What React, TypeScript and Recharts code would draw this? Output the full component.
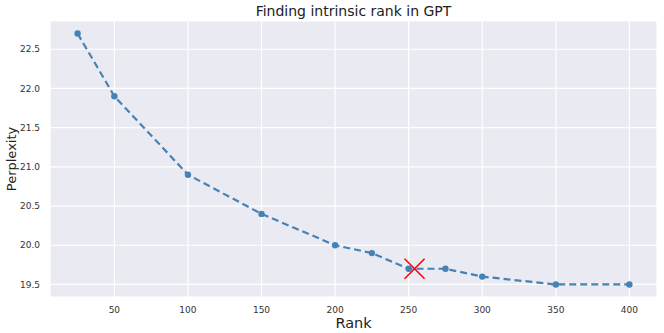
import React from "react";
import {
  ComposedChart, Line, Scatter, XAxis, YAxis, CartesianGrid, Label,
} from "recharts";

const ranks = [25, 50, 100, 150, 200, 225, 250, 275, 300, 350, 400];
const perplexity = [22.7, 21.9, 20.9, 20.4, 20.0, 19.9, 19.7, 19.7, 19.6, 19.5, 19.5];
const chosen = [{ rank: 254, ppl: 19.7 }];
const xTicks = [50, 100, 150, 200, 250, 300, 350, 400];
const yTicks = [19.5, 20.0, 20.5, 21.0, 21.5, 22.0, 22.5];

const font = "'DejaVu Sans', sans-serif";

const CrossMark = (props: any) => {
  const { cx, cy } = props;
  const s = 10;
  return (
    <g>
      <line x1={cx - s} y1={cy - s} x2={cx + s} y2={cy + s} stroke="#ff0000" strokeWidth={1.6} />
      <line x1={cx - s} y1={cy + s} x2={cx + s} y2={cy - s} stroke="#ff0000" strokeWidth={1.6} />
    </g>
  );
};

export default function App() {
  const data = ranks.map((r, i) => ({ rank: r, ppl: perplexity[i] }));

  return (
    <div style={{ position: "absolute", left: 0, top: 0, width: 664, height: 333, background: "#fff", fontFamily: font }}>
      <div
        style={{
          position: "absolute", left: 50, width: 607, top: 3, textAlign: "center",
          fontSize: 14, color: "#222",
        }}
      >
        Finding intrinsic rank in GPT
      </div>
      <ComposedChart width={664} height={333} data={data} margin={{ top: 21, right: 7, left: 0, bottom: 0 }}>
        <CartesianGrid fill="#EAEAF2" stroke="#ffffff" strokeWidth={1.2} />
        <XAxis
          dataKey="rank"
          type="number"
          domain={[6.25, 418.75]}
          ticks={xTicks}
          allowDataOverflow
          height={36}
          axisLine={false}
          tickLine={false}
          tickMargin={4}
          tick={{ fontSize: 9, fill: "#333", fontFamily: font }}
        >
          <Label value="Rank" position="insideBottom" offset={5} style={{ fontSize: 14.5, fill: "#222", fontFamily: font }} />
        </XAxis>
        <YAxis
          type="number"
          domain={[19.34, 22.86]}
          ticks={yTicks}
          allowDataOverflow
          width={50}
          axisLine={false}
          tickLine={false}
          tickMargin={4}
          tickFormatter={(v: number) => v.toFixed(1)}
          tick={{ fontSize: 9, fill: "#333", fontFamily: font }}
        >
          <Label value="Perplexity" angle={-90} position="insideLeft" offset={11} style={{ fontSize: 13, fill: "#222", fontFamily: font, textAnchor: "middle" }} />
        </YAxis>
        <Line
          dataKey="ppl"
          stroke="#4682B4"
          strokeWidth={2.2}
          strokeDasharray="7 4"
          dot={{ r: 3.2, fill: "#4682B4", stroke: "#4682B4", strokeWidth: 0 }}
          isAnimationActive={false}
        />
        <Scatter data={chosen} dataKey="ppl" shape={CrossMark} isAnimationActive={false} />
      </ComposedChart>
    </div>
  );
}
